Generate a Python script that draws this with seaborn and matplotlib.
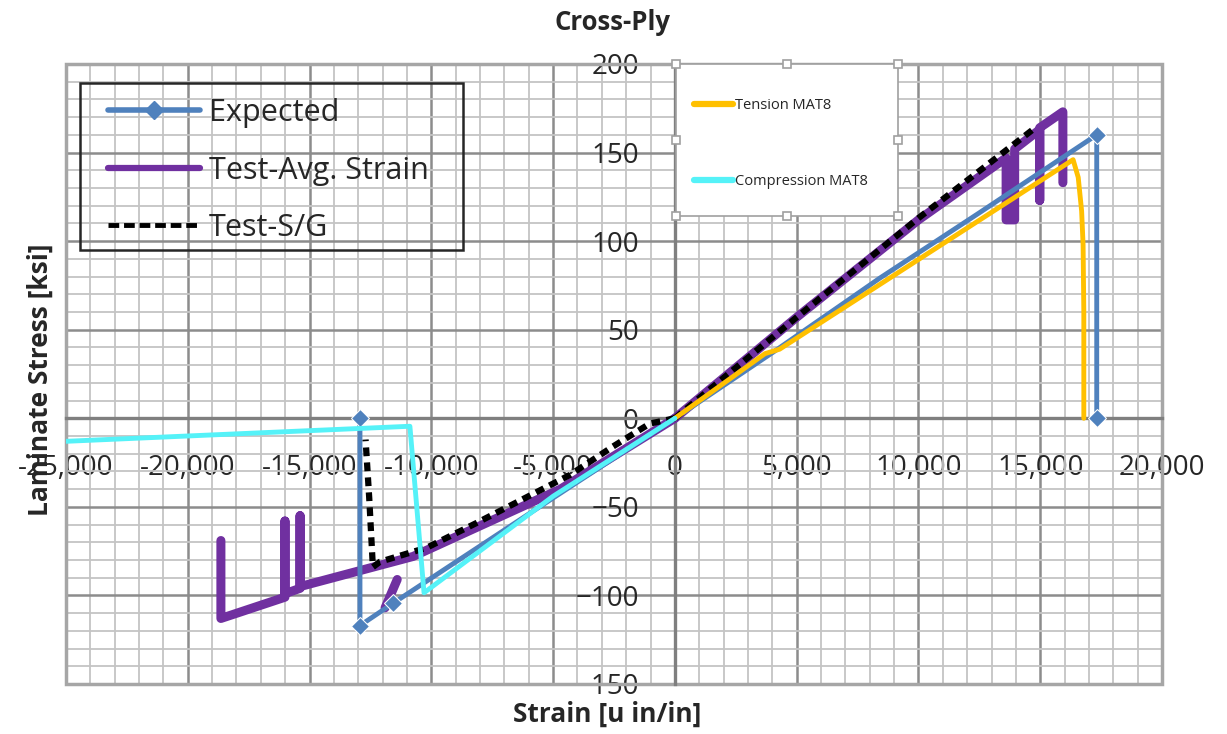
import numpy as np
import pandas as pd
import seaborn as sns
import matplotlib.pyplot as plt
from matplotlib.lines import Line2D
from matplotlib.patches import Rectangle
from matplotlib.ticker import MultipleLocator, FuncFormatter

# Expected
exp_strain = [-12930, -12930, -11580, -6000, 0, 4000, 8400, 12500, 17320, 17320]
exp_stress = [0, -117, -104.5, -54, 0, 37, 79, 116, 160, 0]

# Test-Avg. Strain (seg = separate line pieces)
avg_seg = [0] * 12 + [1] * 2 + [2] * 12
avg_strain = [0, -4700, -10750, -15390, -15390, -15390, -16010, -16010, -16010, -17980, -18640, -18640,
              -11400, -11900,
              0, 5000, 10000, 13600, 13600, 13950, 13950, 14980, 14980, 14980, 15930, 15930]
avg_stress = [0, -40, -78, -95, -55, -96, -99, -58, -101, -110, -113, -69,
              -91, -107,
              0, 57, 112, 147, 112, 112, 152, 163, 123, 164, 173, 133]

# Test-S/G
sg_seg = [0] * 10 + [1] * 4
sg_strain = [0, -1030, -2550, -4310, -8130, -10180, -12110, -12400, -12550, -12700,
             0, 5000, 10000, 14700]
sg_stress = [0, -3, -16, -32, -59, -73, -81, -84, -45, -12,
             0, 57, 113, 163]

# Tension MAT8
ten_strain = [0, 3700, 4300, 16350, 16560, 16700, 16760, 16790, 16790]
ten_stress = [0, 36.5, 39, 146, 136, 117, 98, 60, 0]

# Compression MAT8
comp_strain = [0, -5000, -10300, -10880, -25000]
comp_stress = [0, -44, -98.5, -4.5, -13]

c_exp = '#4f81bd'
c_avg = '#7030a0'
c_sg = 'black'
c_ten = '#ffc000'
c_comp = '#55f2f8'

sns.set_style('white')
plt.rcParams['font.family'] = ['Open Sans', 'DejaVu Sans']

fig = plt.figure(figsize=(12.27, 7.34), dpi=100)
ax = fig.add_axes([66 / 1227, 1 - 684 / 734, (1162 - 66) / 1227, (684 - 64) / 734])

df_avg = pd.DataFrame({'x': avg_strain, 'y': avg_stress, 'seg': avg_seg})
sns.lineplot(data=df_avg, x='x', y='y', units='seg', estimator=None, sort=False,
             color=c_avg, lw=6.5, ax=ax, legend=False)

sns.lineplot(x=exp_strain, y=exp_stress, sort=False, estimator=None, color=c_exp, lw=3.5,
             marker='D', markersize=9, markevery=[0, 1, 2, 8, 9], ax=ax, legend=False)

df_sg = pd.DataFrame({'x': sg_strain, 'y': sg_stress, 'seg': sg_seg})
sns.lineplot(data=df_sg, x='x', y='y', units='seg', estimator=None, sort=False,
             color=c_sg, lw=4.5, dashes=False, ax=ax, legend=False)
for ln in ax.lines[-2:]:
    ln.set_linestyle((0, (1.4, 1.0)))

sns.lineplot(x=ten_strain, y=ten_stress, sort=False, estimator=None, color=c_ten, lw=3.5,
             ax=ax, legend=False)
sns.lineplot(x=comp_strain, y=comp_stress, sort=False, estimator=None, color=c_comp, lw=3.5,
             ax=ax, legend=False)

ax.set_xlim(-25000, 20000)
ax.set_ylim(-150, 200)
ax.xaxis.set_major_locator(MultipleLocator(5000))
ax.xaxis.set_minor_locator(MultipleLocator(1000))
ax.yaxis.set_major_locator(MultipleLocator(50))
ax.yaxis.set_minor_locator(MultipleLocator(10))
ax.xaxis.set_major_formatter(FuncFormatter(lambda v, p: f'{int(v):,}'))
ax.grid(which='major', color='#8c8c8c', lw=1.8)
ax.grid(which='minor', color='#c4c4c4', lw=1.3)
ax.tick_params(which='both', length=0, labelsize=20, pad=26)
ax.set_xlabel('')
ax.set_ylabel('')

for s in ['top', 'right']:
    ax.spines[s].set_visible(False)
for s in ['left', 'bottom']:
    ax.spines[s].set_position(('data', 0))
    ax.spines[s].set_color('#7f7f7f')
    ax.spines[s].set_linewidth(2.4)
    ax.spines[s].set_zorder(1.7)
ax.add_patch(Rectangle((0, 0), 1, 1, transform=ax.transAxes, fill=False,
                       ec='#a6a6a6', lw=2.5, clip_on=False, zorder=1.7))

fig.text(612 / 1227, 1 - 22 / 734, 'Cross-Ply', ha='center', va='center',
         fontsize=18.5, fontweight='bold')
fig.text(607 / 1227, 1 - 714 / 734, 'Strain [u in/in]', ha='center', va='center',
         fontsize=19, fontweight='bold')
fig.text(40 / 1227, 1 - 380 / 734, 'Laminate Stress [ksi]', ha='center', va='center',
         rotation=90, fontsize=19, fontweight='bold')

# legend 1
fig.add_artist(Rectangle((80 / 1227, 1 - 250 / 734), 383 / 1227, 167 / 734,
                         transform=fig.transFigure, fill=False, ec='#262626', lw=1.8))
h1 = [Line2D([], [], color=c_exp, lw=4, marker='D', markersize=9),
      Line2D([], [], color=c_avg, lw=4.5),
      Line2D([], [], color=c_sg, lw=3.5, ls=(0, (2.2, 1.0)))]
fig.legend(h1, ['Expected', 'Test-Avg. Strain', 'Test-S/G'], loc='upper left',
           bbox_to_anchor=(108 / 1227, 1 - 98 / 734), frameon=False, fontsize=22,
           handlelength=3.0, handletextpad=0.3, labelspacing=0.9, borderpad=0,
           borderaxespad=0)

# legend 2
fig.add_artist(Rectangle((676 / 1227, 1 - 216 / 734), 222 / 1227, 152 / 734,
                         transform=fig.transFigure, fc='white', ec='#a0a0a0', lw=1.2))
h2 = [Line2D([], [], color=c_ten, lw=4.5), Line2D([], [], color=c_comp, lw=4.5)]
fig.legend(h2, ['Tension MAT8', 'Compression MAT8'], loc='upper left',
           bbox_to_anchor=(694 / 1227, 1 - 98 / 734), frameon=False, fontsize=10.5,
           handlelength=2.7, handletextpad=0.1, labelspacing=4.2, borderpad=0,
           borderaxespad=0)
hx = [676, 787, 898, 676, 898, 676, 787, 898]
hy = [64, 64, 64, 140, 140, 216, 216, 216]
fig.add_artist(Line2D([v / 1227 for v in hx], [1 - v / 734 for v in hy],
                      transform=fig.transFigure, ls='none', marker='s', ms=6,
                      mfc='white', mec='#a0a0a0', mew=1.2))

fig.savefig('out.png', dpi=100)
